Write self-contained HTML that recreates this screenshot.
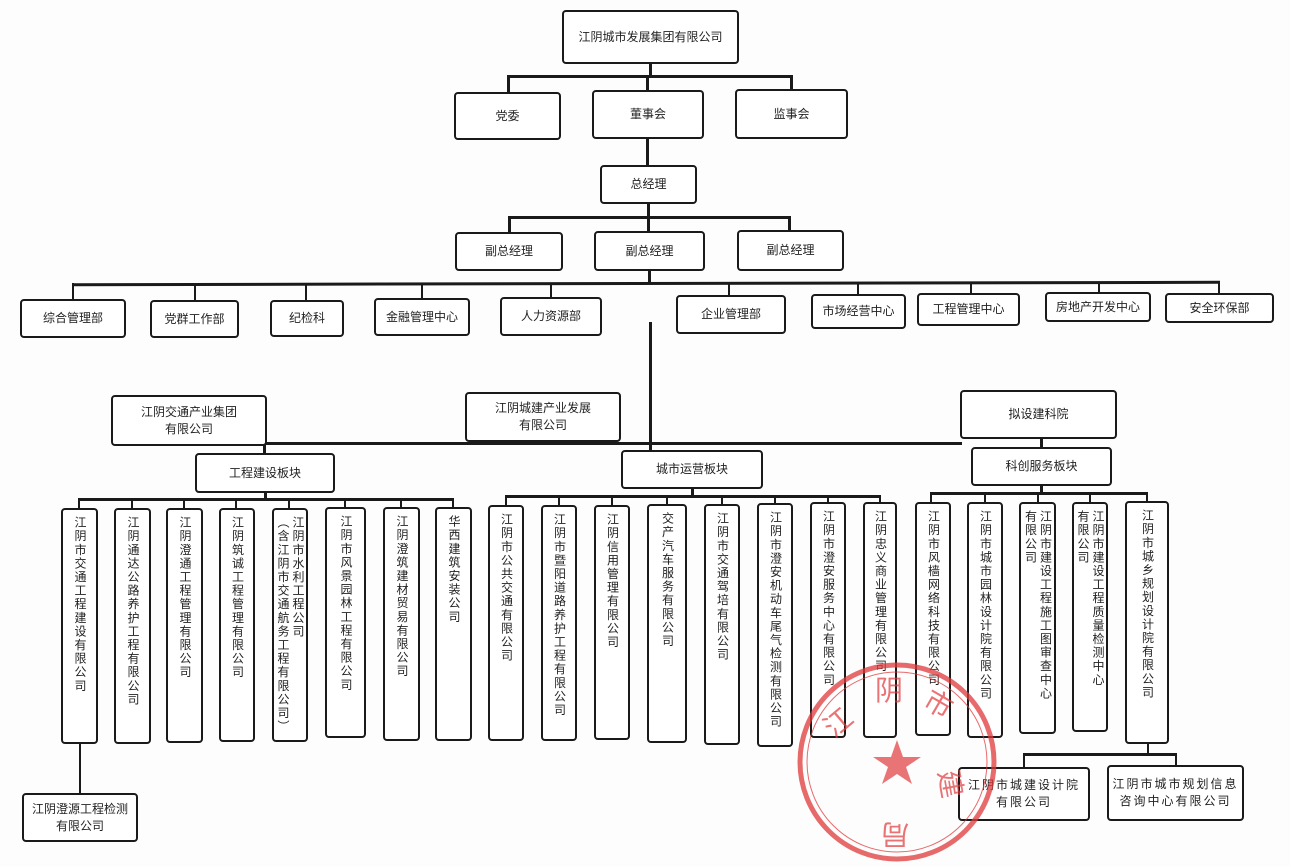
<!DOCTYPE html>
<html><head><meta charset="utf-8"><style>
html,body{margin:0;padding:0;background:#fdfdfd;}
body{width:1290px;height:866px;position:relative;overflow:hidden;font-family:"Liberation Sans","Noto Sans CJK SC",sans-serif;color:#222;}
.b{position:absolute;border:2px solid #1a1a1a;border-radius:4px;box-sizing:border-box;display:flex;align-items:center;justify-content:center;text-align:center;font-size:12px;line-height:17px;background:#fff;}
.v{position:absolute;border:2px solid #1a1a1a;border-radius:4px;box-sizing:border-box;background:#fff;font-size:12px;}
.v span{position:absolute;top:6px;left:0;right:0;margin:auto;writing-mode:vertical-rl;letter-spacing:1.6px;line-height:15px;display:block;height:auto;width:max-content;}
.l{position:absolute;background:#1a1a1a;}
</style></head><body>
<!-- lines -->
<div class="l" style="left:649px;top:63px;width:3px;height:14px"></div>
<div class="l" style="left:507px;top:75px;width:286px;height:3px"></div>
<div class="l" style="left:507px;top:75px;width:3px;height:18px"></div>
<div class="l" style="left:646px;top:75px;width:3px;height:16px"></div>
<div class="l" style="left:790px;top:75px;width:3px;height:15px"></div>
<div class="l" style="left:646px;top:138px;width:3px;height:28px"></div>
<div class="l" style="left:647px;top:203px;width:3px;height:29px"></div>
<div class="l" style="left:508px;top:216px;width:283px;height:3px"></div>
<div class="l" style="left:508px;top:216px;width:3px;height:17px"></div>
<div class="l" style="left:788px;top:216px;width:3px;height:15px"></div>
<div class="l" style="left:648px;top:270px;width:3px;height:14px"></div>
<div class="l" style="left:72px;top:282px;width:1148px;height:3px;transform:rotate(-0.12deg)"></div>
<div class="l" style="left:72px;top:283px;width:2px;height:17px"></div>
<div class="l" style="left:194px;top:283px;width:2px;height:17px"></div>
<div class="l" style="left:305px;top:283px;width:2px;height:17px"></div>
<div class="l" style="left:421px;top:283px;width:2px;height:16px"></div>
<div class="l" style="left:550px;top:283px;width:2px;height:15px"></div>
<div class="l" style="left:728px;top:283px;width:2px;height:13px"></div>
<div class="l" style="left:857px;top:283px;width:2px;height:12px"></div>
<div class="l" style="left:970px;top:283px;width:2px;height:11px"></div>
<div class="l" style="left:1098px;top:282px;width:2px;height:11px"></div>
<div class="l" style="left:1218px;top:282px;width:2px;height:12px"></div>
<div class="l" style="left:649px;top:322px;width:3px;height:140px"></div>
<div class="l" style="left:266px;top:442px;width:696px;height:3px"></div>
<div class="l" style="left:263px;top:444px;width:3px;height:10px"></div>
<div class="l" style="left:1040px;top:437px;width:3px;height:11px"></div>
<!-- 工程 -->
<div class="l" style="left:264px;top:492px;width:3px;height:8px"></div>
<div class="l" style="left:78px;top:498px;width:376px;height:3px"></div>
<div class="l" style="left:78px;top:498px;width:2px;height:11px"></div><div class="l" style="left:131px;top:498px;width:2px;height:11px"></div><div class="l" style="left:183px;top:498px;width:2px;height:11px"></div><div class="l" style="left:235px;top:498px;width:2px;height:11px"></div><div class="l" style="left:288px;top:498px;width:2px;height:11px"></div><div class="l" style="left:344px;top:498px;width:2px;height:11px"></div><div class="l" style="left:400px;top:498px;width:2px;height:11px"></div><div class="l" style="left:452px;top:498px;width:2px;height:11px"></div>
<div class="l" style="left:79px;top:742px;width:2px;height:52px"></div>
<!-- 城市 -->
<div class="l" style="left:691px;top:488px;width:3px;height:8px"></div>
<div class="l" style="left:505px;top:495px;width:376px;height:3px"></div>
<div class="l" style="left:505px;top:495px;width:2px;height:10px"></div><div class="l" style="left:558px;top:495px;width:2px;height:10px"></div><div class="l" style="left:611px;top:495px;width:2px;height:10px"></div><div class="l" style="left:666px;top:495px;width:2px;height:10px"></div><div class="l" style="left:721px;top:495px;width:2px;height:10px"></div><div class="l" style="left:774px;top:495px;width:2px;height:10px"></div><div class="l" style="left:827px;top:495px;width:2px;height:10px"></div><div class="l" style="left:879px;top:495px;width:2px;height:10px"></div>
<!-- 科创 -->
<div class="l" style="left:1040px;top:485px;width:3px;height:8px"></div>
<div class="l" style="left:930px;top:492px;width:218px;height:3px"></div>
<div class="l" style="left:930px;top:492px;width:2px;height:11px"></div><div class="l" style="left:984px;top:492px;width:2px;height:11px"></div><div class="l" style="left:1037px;top:492px;width:2px;height:11px"></div><div class="l" style="left:1089px;top:492px;width:2px;height:11px"></div><div class="l" style="left:1146px;top:492px;width:2px;height:11px"></div>
<div class="l" style="left:1147px;top:742px;width:2px;height:13px"></div>
<div class="l" style="left:1023px;top:753px;width:154px;height:3px"></div>
<div class="l" style="left:1023px;top:753px;width:2px;height:14px"></div>
<div class="l" style="left:1175px;top:753px;width:2px;height:13px"></div>

<!-- top boxes -->
<div class="b" style="left:562px;top:10px;width:177px;height:54px">江阴城市发展集团有限公司</div>
<div class="b" style="left:454px;top:92px;width:107px;height:48px">党委</div>
<div class="b" style="left:592px;top:90px;width:112px;height:49px">董事会</div>
<div class="b" style="left:735px;top:89px;width:113px;height:50px">监事会</div>
<div class="b" style="left:600px;top:165px;width:97px;height:39px">总经理</div>
<div class="b" style="left:455px;top:232px;width:108px;height:39px">副总经理</div>
<div class="b" style="left:594px;top:231px;width:111px;height:40px">副总经理</div>
<div class="b" style="left:737px;top:230px;width:107px;height:41px">副总经理</div>
<!-- depts -->
<div class="b" style="left:20px;top:299px;width:106px;height:39px">综合管理部</div>
<div class="b" style="left:150px;top:300px;width:89px;height:38px">党群工作部</div>
<div class="b" style="left:270px;top:300px;width:74px;height:37px">纪检科</div>
<div class="b" style="left:374px;top:298px;width:96px;height:38px">金融管理中心</div>
<div class="b" style="left:500px;top:297px;width:102px;height:39px">人力资源部</div>
<div class="b" style="left:676px;top:295px;width:110px;height:39px">企业管理部</div>
<div class="b" style="left:811px;top:294px;width:95px;height:35px">市场经营中心</div>
<div class="b" style="left:917px;top:293px;width:103px;height:33px">工程管理中心</div>
<div class="b" style="left:1045px;top:292px;width:106px;height:30px">房地产开发中心</div>
<div class="b" style="left:1165px;top:293px;width:109px;height:30px">安全环保部</div>
<!-- groups -->
<div class="b" style="left:111px;top:395px;width:156px;height:51px">江阴交通产业集团<br>有限公司</div>
<div class="b" style="left:465px;top:392px;width:156px;height:50px">江阴城建产业发展<br>有限公司</div>
<div class="b" style="left:960px;top:390px;width:157px;height:49px">拟设建科院</div>
<div class="b" style="left:195px;top:453px;width:140px;height:40px">工程建设板块</div>
<div class="b" style="left:621px;top:450px;width:142px;height:39px">城市运营板块</div>
<div class="b" style="left:971px;top:447px;width:141px;height:39px">科创服务板块</div>
<!-- 工程 vertical -->
<div class="v" style="left:61px;top:508px;width:37px;height:236px"><span>江阴市交通工程建设有限公司</span></div>
<div class="v" style="left:114px;top:508px;width:37px;height:236px"><span>江阴通达公路养护工程有限公司</span></div>
<div class="v" style="left:166px;top:508px;width:37px;height:235px"><span>江阴澄通工程管理有限公司</span></div>
<div class="v" style="left:219px;top:508px;width:36px;height:234px"><span>江阴筑诚工程管理有限公司</span></div>
<div class="v" style="left:272px;top:508px;width:36px;height:234px"><span>江阴市水利工程公司<br>（含江阴市交通航务工程有限公司）</span></div>
<div class="v" style="left:325px;top:507px;width:41px;height:231px"><span>江阴市风景园林工程有限公司</span></div>
<div class="v" style="left:383px;top:507px;width:37px;height:234px"><span>江阴澄筑建材贸易有限公司</span></div>
<div class="v" style="left:435px;top:507px;width:37px;height:234px"><span>华西建筑安装公司</span></div>
<div class="b" style="left:22px;top:793px;width:116px;height:49px">江阴澄源工程检测<br>有限公司</div>
<!-- 城市 vertical -->
<div class="v" style="left:488px;top:505px;width:36px;height:236px"><span>江阴市公共交通有限公司</span></div>
<div class="v" style="left:541px;top:505px;width:36px;height:236px"><span>江阴市暨阳道路养护工程有限公司</span></div>
<div class="v" style="left:594px;top:505px;width:36px;height:235px"><span>江阴信用管理有限公司</span></div>
<div class="v" style="left:647px;top:504px;width:40px;height:239px"><span>交产汽车服务有限公司</span></div>
<div class="v" style="left:704px;top:504px;width:36px;height:241px"><span>江阴市交通驾培有限公司</span></div>
<div class="v" style="left:757px;top:503px;width:36px;height:244px"><span>江阴市澄安机动车尾气检测有限公司</span></div>
<div class="v" style="left:810px;top:502px;width:36px;height:236px"><span>江阴市澄安服务中心有限公司</span></div>
<div class="v" style="left:863px;top:502px;width:34px;height:236px"><span>江阴忠义商业管理有限公司</span></div>
<!-- 科创 vertical -->
<div class="v" style="left:915px;top:502px;width:36px;height:234px"><span>江阴市风樯网络科技有限公司</span></div>
<div class="v" style="left:967px;top:502px;width:36px;height:236px"><span>江阴市城市园林设计院有限公司</span></div>
<div class="v" style="left:1019px;top:502px;width:37px;height:232px"><span>江阴市建设工程施工图审查中心<br>有限公司</span></div>
<div class="v" style="left:1072px;top:502px;width:36px;height:230px"><span>江阴市建设工程质量检测中心<br>有限公司</span></div>
<div class="v" style="left:1125px;top:501px;width:44px;height:243px"><span>江阴市城乡规划设计院有限公司</span></div>
<div class="b" style="left:958px;top:767px;width:132px;height:54px;letter-spacing:2px">江阴市城建设计院<br>有限公司</div>
<div class="b" style="left:1107px;top:765px;width:137px;height:56px;letter-spacing:2px">江阴市城市规划信息<br>咨询中心有限公司</div>
<!-- stamp -->
<svg style="position:absolute;left:0;top:0" width="1290" height="866">
<g fill="none" stroke="#e0393b" opacity="0.75">
<circle cx="897" cy="762" r="97" stroke-width="5"/>
<circle cx="897" cy="762" r="90" stroke-width="1"/>
</g>
<polygon fill="#e0393b" opacity="0.7" points="897,740 903,757 921,757 906,767 912,784 897,774 882,784 888,767 873,757 891,757"/>
<g fill="#e0393b" opacity="0.7" font-size="28" font-family="Noto Sans CJK SC,sans-serif">
<text x="825" y="735" transform="rotate(-40 835 725)">江</text>
<text x="875" y="700">阴</text>
<text x="925" y="712" transform="rotate(30 935 702)">市</text>
<text x="940" y="790" transform="rotate(80 950 780)">建</text>
<text x="885" y="845" transform="rotate(180 897 835)">局</text>
</g>
</svg>
</body></html>
